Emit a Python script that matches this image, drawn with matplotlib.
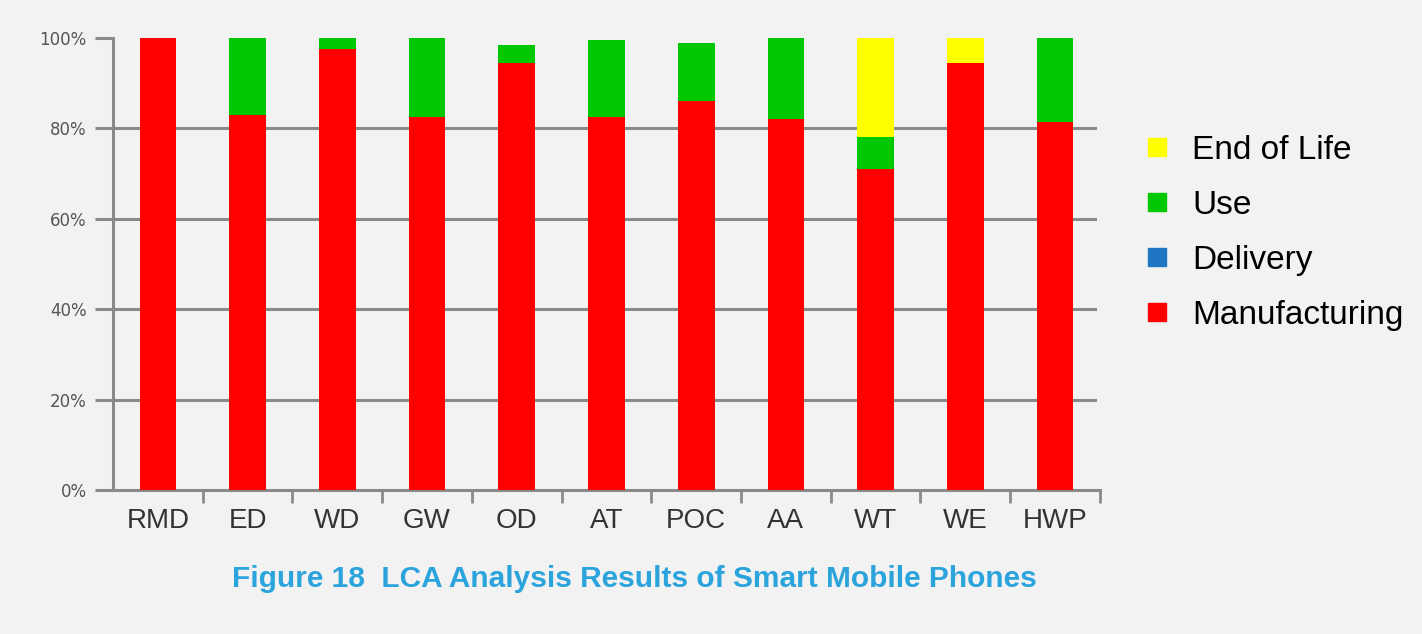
import numpy as np
import matplotlib
matplotlib.use('Agg')
import matplotlib.pyplot as plt
from matplotlib.lines import Line2D

# ============================================================
# Data (percent of total)
# ============================================================
categories = ['RMD', 'ED', 'WD', 'GW', 'OD', 'AT', 'POC', 'AA', 'WT', 'WE', 'HWP']
manufacturing = [100, 83, 97.5, 82.5, 94.5, 82.5, 86, 82, 71, 94.5, 81.5]
delivery = [0, 0, 0, 0, 0, 0, 0, 0, 0, 0, 0]
use = [0, 17, 2.5, 17.5, 4, 17, 13, 18, 7, 0, 18.5]
end_of_life = [0, 0, 0, 0, 0, 0, 0, 0, 22, 5.5, 0]
y_ticks = [0, 20, 40, 60, 80, 100]

series = [
    ('Manufacturing', manufacturing, '#ff0000'),
    ('Delivery', delivery, '#1f77c4'),
    ('Use', use, '#00c800'),
    ('End of Life', end_of_life, '#ffff00'),
]

bg = '#f2f2f2'
grid_col = '#8a8a8a'

fig = plt.figure(figsize=(14.22, 6.34), dpi=100, facecolor=bg)
ax = fig.add_axes([0.0795, 0.227, 0.694, 0.713], facecolor=bg)

x = np.arange(len(categories))
bottom = np.zeros(len(categories))
for name, vals, col in series:
    vals = np.array(vals, dtype=float)
    ax.bar(x, vals, width=0.41, bottom=bottom, color=col, zorder=3)
    bottom += vals

ax.set_xlim(-0.5, len(categories) - 0.5)
ax.set_ylim(0, 100)

# gridlines (no line at 100%)
for v in y_ticks[1:-1]:
    ax.axhline(v, xmin=0, xmax=0.995, color=grid_col, lw=2.2, zorder=1)

ax.set_yticks(y_ticks)
ax.set_yticklabels([f'{v}%' for v in y_ticks], fontsize=12, color='#555555',
                   family='DejaVu Sans')
ax.tick_params(axis='y', length=13, width=2.2, color=grid_col, pad=6)

ax.set_xticks(x)
ax.set_xticklabels(categories, fontsize=20, color='#333333', family='Liberation Sans')
ax.tick_params(axis='x', which='major', length=0, pad=13)
ax.set_xticks(np.arange(0.5, len(categories), 1), minor=True)
ax.tick_params(axis='x', which='minor', length=9, width=2, color=grid_col)

for s in ['top', 'right']:
    ax.spines[s].set_visible(False)
ax.spines['left'].set_color(grid_col)
ax.spines['left'].set_linewidth(2.2)
ax.spines['bottom'].set_color(grid_col)
ax.spines['bottom'].set_linewidth(2.2)

handles = [Line2D([], [], marker='s', linestyle='none', markersize=13, color=c)
           for c in ['#ffff00', '#00c800', '#1f77c4', '#ff0000']]
labels = ['End of Life', 'Use', 'Delivery', 'Manufacturing']
fig.legend(handles, labels, loc='upper left', bbox_to_anchor=(0.781, 0.835),
           frameon=False, prop={'family': 'Liberation Sans', 'size': 24},
           labelspacing=0.72, handlelength=1.0, handletextpad=0.55)

fig.text(0.446, 0.087, 'Figure 18  LCA Analysis Results of Smart Mobile Phones',
         ha='center', va='center', fontsize=21.5, fontweight='bold',
         color='#2ba3dc', family='Liberation Sans')

fig.savefig('out.png', dpi=100, facecolor=bg)
